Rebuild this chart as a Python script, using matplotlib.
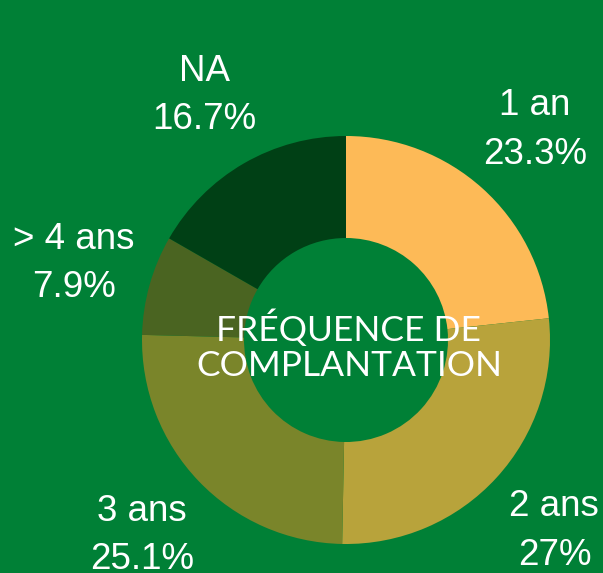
import matplotlib
matplotlib.use("Agg")
import matplotlib.pyplot as plt

categories = ["1 an", "2 ans", "3 ans", "> 4 ans", "NA"]
values = [23.3, 27.0, 25.1, 7.9, 16.7]
colors = ["#FDBA57", "#B8A33B", "#7A852A", "#4A6421", "#004015"]
center_title = "FRÉQUENCE DE\nCOMPLANTATION"
bg = "#008036"

def fmt(v):
    s = f"{v:.1f}".rstrip("0").rstrip(".")
    return s + "%"

labels = [f"{c}\n{fmt(v)}" for c, v in zip(categories, values)]

fig = plt.figure(figsize=(6.03, 5.73), dpi=100, facecolor=bg)
ax = fig.add_axes([0, 0, 1, 1])
ax.set_facecolor(bg)

cx, cy, R = 346, 233, 204
ax.pie(values, labels=labels, colors=colors, startangle=90, counterclock=False,
       center=(cx, cy), radius=R, labeldistance=1.385,
       wedgeprops=dict(width=R * 0.5, linewidth=0),
       textprops=dict(color="white", fontsize=26.5, family="Liberation Sans",
                      ha="center", va="center", linespacing=1.5))

ax.text(cx + 3, cy - 6, center_title, color="white", fontsize=25.5, family="Lato",
        fontweight="normal", ha="center", va="center", linespacing=1.12)

ax.set_xlim(0, 603)
ax.set_ylim(0, 573)
ax.set_aspect("equal")
ax.axis("off")
fig.savefig("out.png", dpi=100, facecolor=bg)
